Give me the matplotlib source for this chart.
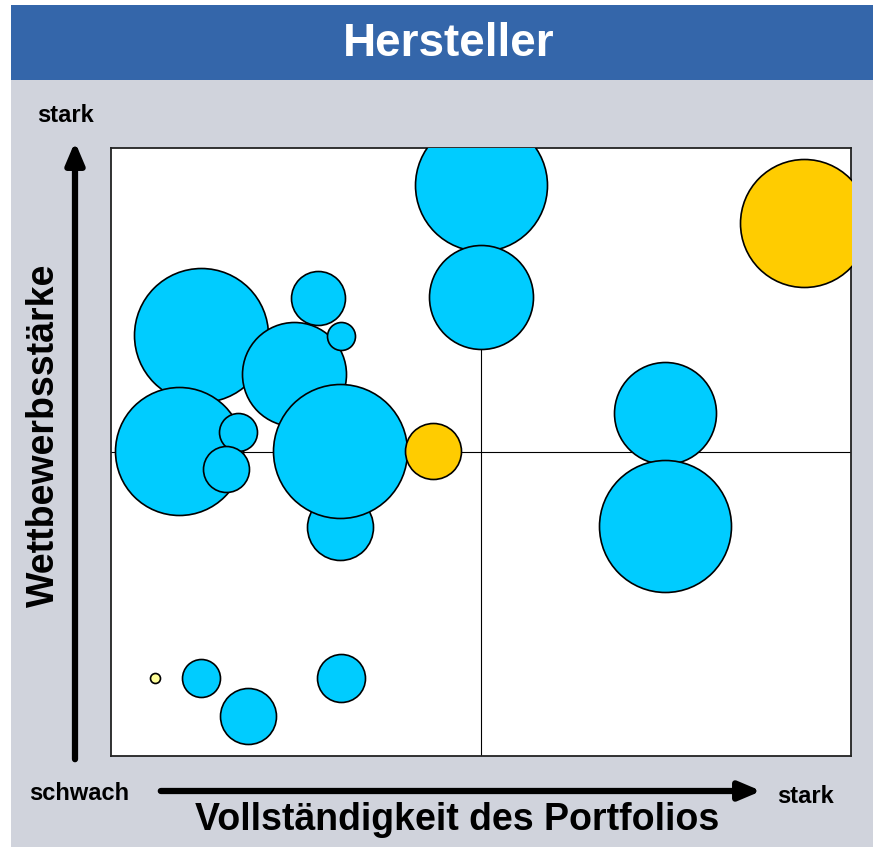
import numpy as np
import matplotlib.pyplot as plt
from matplotlib.patches import Rectangle

# Daten: Position (0..10) und relative Blasengröße
x_werte = [1.22, 2.47, 2.80, 3.11, 3.09, 0.92, 1.72, 1.55, 3.09, 4.35,
           5.00, 5.00, 9.36, 7.49, 7.49, 0.59, 1.22, 1.85, 3.11]
y_werte = [6.92, 6.28, 7.53, 6.91, 3.77, 5.02, 5.33, 4.72, 5.02, 5.02,
           9.39, 7.55, 8.77, 5.64, 3.78, 1.28, 1.28, 0.66, 1.28]
groesse = [67, 52, 27, 14, 33, 64, 19, 23, 67, 28,
           66, 52, 64, 51, 66, 5, 19, 28, 24]
typ = ['b', 'b', 'b', 'b', 'b', 'b', 'b', 'b', 'b', 'g',
       'b', 'b', 'g', 'b', 'b', 'h', 'b', 'b', 'b']

farben = {'b': '#00CCFF', 'g': '#FFCC00', 'h': '#FFFF99'}

W, H = 873, 847
fig = plt.figure(figsize=(W / 100, H / 100), dpi=100)
fig.patch.set_facecolor('white')

# Hintergrund und Titelleiste
fig.patches.append(Rectangle((11 / W, 0), 1 - 11 / W, 1 - 5 / H, transform=fig.transFigure,
                             facecolor='#D0D3DC', edgecolor='none', zorder=-2))
fig.patches.append(Rectangle((11 / W, 1 - 80 / H), 1 - 11 / W, 75 / H, transform=fig.transFigure,
                             facecolor='#3466AA', edgecolor='none', zorder=-1))

schrift = ['Liberation Sans', 'DejaVu Sans']
fig.text(449 / W, 1 - 44 / H, 'Hersteller', color='white', fontsize=33, fontweight='bold',
         ha='center', va='center', family=schrift)

ax = fig.add_axes([111 / W, 1 - 756 / H, 740 / W, 608 / H])
ax.set_xlim(0, 10)
ax.set_ylim(0, 10)
ax.set_facecolor('white')
ax.set_xticks([])
ax.set_yticks([])
for s in ax.spines.values():
    s.set_linewidth(1.3)
    s.set_color('#222222')

ax.axvline(5, color='black', linewidth=0.8, zorder=1)
ax.axhline(5, color='black', linewidth=0.8, zorder=1)

for i in range(len(x_werte)):
    ax.scatter(x_werte[i], y_werte[i], s=(1.44 * groesse[i]) ** 2, color=farben[typ[i]],
               edgecolors='black', linewidths=1.2, zorder=2 + i)

# Achsenbeschriftungen und Pfeile
fig.text(66 / W, 1 - 115 / H, 'stark', fontsize=17, fontweight='bold', ha='center', va='center', family=schrift)
fig.text(79 / W, 1 - 793 / H, 'schwach', fontsize=17, fontweight='bold', ha='center', va='center', family=schrift)
fig.text(806 / W, 1 - 796 / H, 'stark', fontsize=17, fontweight='bold', ha='center', va='center', family=schrift)
fig.text(457 / W, 1 - 820 / H, 'Vollständigkeit des Portfolios', fontsize=27, fontweight='bold',
         ha='center', va='center', family=schrift)
fig.text(44 / W, 1 - 435 / H, 'Wettbewerbsstärke', fontsize=27, fontweight='bold', rotation=90,
         ha='center', va='center', family=schrift)

ax.annotate('', xy=(764 / W, 1 - 791 / H), xytext=(158 / W, 1 - 791 / H), xycoords='figure fraction',
            arrowprops=dict(arrowstyle='-|>,head_length=1.3,head_width=0.55', lw=4.5, color='black'))
ax.annotate('', xy=(75 / W, 1 - 139 / H), xytext=(75 / W, 1 - 762 / H), xycoords='figure fraction',
            arrowprops=dict(arrowstyle='-|>,head_length=1.3,head_width=0.55', lw=4.5, color='black'))

fig.savefig('out.png', dpi=100, facecolor=fig.get_facecolor())
